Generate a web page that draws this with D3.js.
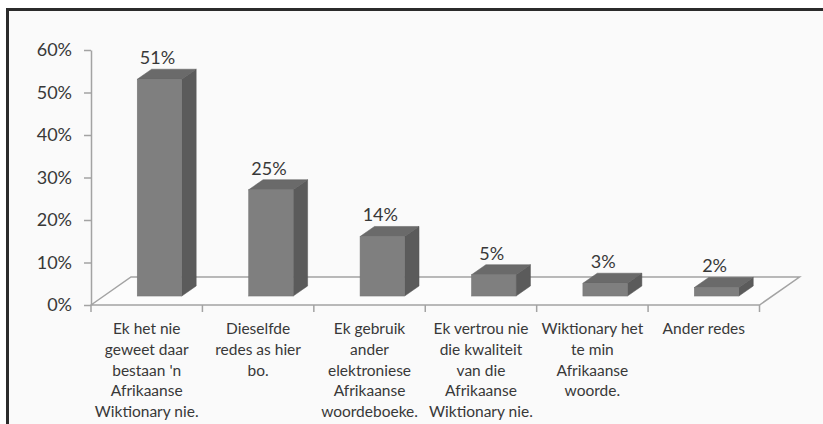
<!DOCTYPE html>
<html>
<head>
<meta charset="utf-8">
<script src="https://cdn.jsdelivr.net/npm/d3@7"></script>
<style>
  html, body { margin: 0; padding: 0; background: #ffffff; }
  svg { display: block; }
  text { font-family: Lato, "Open Sans", sans-serif; fill: #383838; }
</style>
</head>
<body>
<svg id="chart" width="823" height="424"></svg>
<script>
const categories = [
  "Ek het nie geweet daar bestaan 'n Afrikaanse Wiktionary nie.",
  "Dieselfde redes as hier bo.",
  "Ek gebruik ander elektroniese Afrikaanse woordeboeke.",
  "Ek vertrou nie die kwaliteit van die Afrikaanse Wiktionary nie.",
  "Wiktionary het te min Afrikaanse woorde.",
  "Ander redes"
];
const categoryLines = [
  ["Ek het nie", "geweet daar", "bestaan 'n", "Afrikaanse", "Wiktionary nie."],
  ["Dieselfde", "redes as hier", "bo."],
  ["Ek gebruik", "ander", "elektroniese", "Afrikaanse", "woordeboeke."],
  ["Ek vertrou nie", "die kwaliteit", "van die", "Afrikaanse", "Wiktionary nie."],
  ["Wiktionary het", "te min", "Afrikaanse", "woorde."],
  ["Ander redes"]
];
const values = [0.51, 0.25, 0.14, 0.05, 0.03, 0.02];
const yTicks = [0, 0.1, 0.2, 0.3, 0.4, 0.5, 0.6];

const svg = d3.select("#chart");

// frame
svg.append("rect").attr("x", 7.5).attr("y", 9.5).attr("width", 830).attr("height", 430)
  .attr("fill", "#fafafa").attr("stroke", "#2b2b2b").attr("stroke-width", 3);

const x0 = 91, x1 = 759.5, yBase = 305, yTop = 50;
const depthX = 40, depthY = -28;
const f1 = 0.32, f2 = 0.68;

const x = d3.scaleBand().domain(categories).range([x0, x1]).paddingInner(0.6).paddingOuter(0.3);
const y = d3.scaleLinear().domain([0, 0.6]).range([yBase, yTop]);

// floor
const floor = [[x0, yBase], [x0 + depthX, yBase + depthY], [x1 + depthX, yBase + depthY], [x1, yBase]];
svg.append("path")
  .attr("d", d3.line()(floor) + "Z")
  .attr("fill", "#fcfcfc").attr("stroke", "#a3a3a3").attr("stroke-width", 1.5);

// y axis
const yAxis = d3.axisLeft(y).tickValues(yTicks).tickFormat(d3.format(".0%")).tickSize(7).tickSizeOuter(0).tickPadding(12);
const gy = svg.append("g").attr("transform", `translate(${x0},0)`).call(yAxis);
gy.select(".domain").attr("stroke", "#a3a3a3").attr("stroke-width", 1.5);
gy.selectAll(".tick line").attr("stroke", "#a3a3a3").attr("stroke-width", 1.5);
gy.selectAll(".tick text").style("font-size", "18px").attr("fill", "#383838");

// x ticks at category boundaries
const bounds = d3.range(categories.length + 1).map(i => x0 + i * x.step());
svg.append("g").selectAll("line").data(bounds).join("line")
  .attr("x1", d => d).attr("x2", d => d).attr("y1", yBase).attr("y2", yBase + 7)
  .attr("stroke", "#a3a3a3").attr("stroke-width", 1.5);

// bars
const bars = svg.append("g");
categories.forEach((c, i) => {
  const v = values[i];
  const bx = x(c), bw = x.bandwidth();
  const fx = bx + depthX * f1, fyOff = depthY * f1;
  const dx = depthX * (f2 - f1), dy = depthY * (f2 - f1);
  const top = y(v) + fyOff, bottom = yBase + fyOff;
  // side
  bars.append("path")
    .attr("d", d3.line()([[fx + bw, top], [fx + bw + dx, top + dy], [fx + bw + dx, bottom + dy], [fx + bw, bottom]]) + "Z")
    .attr("fill", "#5b5b5b").attr("stroke", "#555").attr("stroke-width", 0.5);
  // top
  bars.append("path")
    .attr("d", d3.line()([[fx, top], [fx + dx, top + dy], [fx + bw + dx, top + dy], [fx + bw, top]]) + "Z")
    .attr("fill", "#6a6a6a").attr("stroke", "#5e5e5e").attr("stroke-width", 0.5);
  // front
  bars.append("rect")
    .attr("x", fx).attr("y", top).attr("width", bw).attr("height", bottom - top)
    .attr("fill", "#7f7f7f").attr("stroke", "#757575").attr("stroke-width", 0.5);
  // value label
  svg.append("text")
    .attr("x", fx + bw / 2 - 2).attr("y", top + dy - 5)
    .attr("text-anchor", "middle").style("font-size", "18px")
    .text(d3.format(".0%")(v));
});

// category labels
categories.forEach((c, i) => {
  const cx = x0 + (i + 0.5) * x.step();
  const t = svg.append("text").attr("text-anchor", "middle").style("font-size", "15.5px").attr("fill", "#383838");
  categoryLines[i].forEach((ln, j) => {
    t.append("tspan").attr("x", cx).attr("y", 334 + j * 20.8).text(ln);
  });
});
</script>
</body>
</html>
